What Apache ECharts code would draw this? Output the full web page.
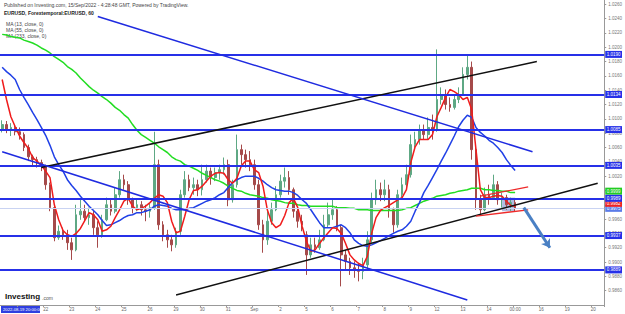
<!DOCTYPE html>
<html><head><meta charset="utf-8">
<script src="https://cdn.jsdelivr.net/npm/echarts@6/dist/echarts.min.js"></script>
<style>html,body{margin:0;padding:0;background:#fff}#c{width:625px;height:314px}</style>
</head><body><div id="c"></div>
<script>
// ---- time axis (4-hour bars, trading days only) ----
const tradingDays = ['08-18','08-19','08-22','08-23','08-24','08-25','08-26','08-29','08-30','08-31','09-01','09-02','09-05','09-06','09-07','09-08','09-09','09-12','09-13','09-14','09-15','09-16','09-19','09-20'];
const dayTickLabels = ['','','22','23','24','25','26','29','30','31','Sep','2','5','6','7','8','9','12','13','14','00:00','16','19','20'];
const barHours = ['00:00','04:00','08:00','12:00','16:00','20:00'];

// ---- EURUSD 4h candles ----
const opens = [1.0085,1.0092,1.0085,1.0088,1.0082,1.0078,1.0060,1.0047,1.0043,1.0039,
1.0034,1.0008,0.9976,0.9934,0.9943,0.9938,0.9927,0.9917,0.9966,0.9971,
0.9962,0.9966,0.9948,0.9938,0.9959,0.9980,0.9971,0.9994,1.0015,1.0008,
0.9987,0.9976,0.9980,0.9973,0.9971,0.9976,1.0036,0.9952,0.9938,0.9931,
0.9924,0.9943,0.9994,1.0015,1.0004,1.0008,1.0001,1.0015,1.0027,1.0018,
1.0025,1.0029,1.0036,0.9987,1.0008,1.0057,1.0050,1.0043,1.0036,1.0008,
0.9952,0.9931,0.9957,0.9973,0.9994,1.0013,1.0018,1.0001,0.9971,0.9957,
0.9938,0.9910,0.9924,0.9920,0.9931,0.9952,0.9966,0.9973,0.9948,0.9910,
0.9901,0.9892,0.9889,0.9887,0.9896,0.9931,0.9987,1.0001,0.9994,1.0001,
0.9973,0.9952,0.9994,1.0008,1.0022,1.0064,1.0071,1.0085,1.0078,1.0088,
1.0085,1.0127,1.0134,1.0120,1.0116,1.0127,1.0134,1.0162,1.0172,1.0057,
0.9987,0.9973,0.9994,0.9990,1.0008,0.9987,0.9990,0.9980,0.9983];
const closes = [1.0092,1.0085,1.0088,1.0082,1.0078,1.0060,1.0047,1.0043,1.0039,1.0034,
1.0008,0.9976,0.9934,0.9943,0.9938,0.9927,0.9917,0.9966,0.9971,0.9962,
0.9966,0.9948,0.9938,0.9959,0.9980,0.9971,0.9994,1.0015,1.0008,0.9987,
0.9976,0.9980,0.9973,0.9971,0.9976,1.0036,0.9952,0.9938,0.9931,0.9924,
0.9943,0.9994,1.0015,1.0004,1.0008,1.0001,1.0015,1.0027,1.0018,1.0025,
1.0029,1.0036,0.9987,1.0008,1.0057,1.0050,1.0043,1.0036,1.0008,0.9952,
0.9931,0.9957,0.9973,0.9994,1.0013,1.0018,1.0001,0.9971,0.9957,0.9952,
0.9910,0.9924,0.9920,0.9931,0.9952,0.9966,0.9973,0.9948,0.9910,0.9901,
0.9892,0.9889,0.9887,0.9896,0.9931,0.9987,1.0001,0.9994,1.0001,0.9973,
0.9952,0.9994,1.0008,1.0022,1.0064,1.0071,1.0085,1.0078,1.0088,1.0085,
1.0127,1.0134,1.0120,1.0116,1.0127,1.0134,1.0162,1.0172,1.0057,0.9987,
0.9973,0.9994,0.9990,1.0008,0.9987,0.9990,0.9980,0.9983,0.9975];
const lows = [1.0081,1.0080,1.0076,1.0077,1.0071,1.0055,1.0041,1.0035,1.0032,1.0027,
1.0001,0.9971,0.9929,0.9931,0.9931,0.9917,0.9903,0.9915,0.9959,0.9957,
0.9952,0.9938,0.9920,0.9934,0.9957,0.9965,0.9968,0.9990,1.0001,0.9980,
0.9968,0.9971,0.9965,0.9957,0.9962,0.9973,0.9945,0.9929,0.9920,0.9915,
0.9920,0.9938,0.9990,0.9999,0.9994,0.9992,0.9993,1.0011,1.0008,1.0013,
1.0015,1.0022,0.9978,0.9983,1.0004,1.0036,1.0032,1.0027,1.0001,0.9945,
0.9913,0.9924,0.9952,0.9971,0.9990,1.0004,0.9994,0.9962,0.9948,0.9943,
0.9882,0.9906,0.9913,0.9917,0.9929,0.9948,0.9959,0.9943,0.9866,0.9889,
0.9882,0.9878,0.9873,0.9876,0.9889,0.9927,0.9980,0.9985,0.9985,0.9962,
0.9941,0.9948,0.9990,1.0001,1.0018,1.0057,1.0064,1.0071,1.0071,1.0071,
1.0082,1.0120,1.0113,1.0110,1.0113,1.0122,1.0133,1.0155,1.0043,0.9973,
0.9965,0.9971,0.9980,0.9987,0.9980,0.9976,0.9973,0.9971,0.9971];
const highs = [1.0098,1.0097,1.0094,1.0092,1.0088,1.0081,1.0064,1.0050,1.0047,1.0043,
1.0036,1.0011,0.9980,0.9951,0.9948,0.9945,0.9934,0.9980,0.9987,0.9980,
0.9976,0.9973,0.9957,0.9966,0.9990,0.9987,1.0004,1.0027,1.0022,1.0013,
0.9990,0.9987,0.9985,0.9980,0.9982,1.0082,1.0043,0.9957,0.9945,0.9938,
0.9948,1.0001,1.0027,1.0022,1.0018,1.0015,1.0036,1.0036,1.0032,1.0032,
1.0036,1.0046,1.0043,1.0015,1.0078,1.0064,1.0057,1.0055,1.0043,1.0015,
0.9959,0.9971,0.9983,1.0006,1.0022,1.0032,1.0027,1.0004,0.9976,0.9966,
0.9943,0.9934,0.9934,0.9945,0.9966,0.9983,0.9987,0.9978,0.9952,0.9917,
0.9906,0.9901,0.9899,0.9906,0.9943,0.9997,1.0015,1.0011,1.0015,1.0008,
0.9976,1.0001,1.0018,1.0036,1.0078,1.0082,1.0092,1.0092,1.0102,1.0106,
1.0197,1.0144,1.0141,1.0130,1.0134,1.0144,1.0172,1.0190,1.0180,1.0060,
0.9994,1.0004,1.0008,1.0022,1.0013,0.9997,0.9994,0.9990,0.9987];

// ---- moving averages ----
const ma13 = [1.0155,1.0127,1.0103,1.0089,1.0076,1.0067,1.0059,1.0046,1.0041,1.0035,
1.0027,1.0018,0.9980,0.9959,0.9944,0.9938,0.9936,0.9940,0.9947,0.9958,
0.9969,0.9966,0.9959,0.9943,0.9945,0.9950,0.9962,0.9973,0.9985,0.9989,
0.9978,0.9973,0.9975,0.9978,0.9983,0.9989,0.9994,0.9992,0.9983,0.9957,
0.9941,0.9943,0.9964,0.9987,1.0000,1.0001,1.0006,1.0013,1.0020,1.0024,
1.0025,1.0024,1.0015,1.0010,1.0017,1.0034,1.0041,1.0041,1.0029,1.0025,
1.0006,0.9973,0.9955,0.9948,0.9952,0.9965,0.9983,0.9989,0.9976,0.9950,
0.9929,0.9915,0.9917,0.9926,0.9934,0.9941,0.9948,0.9947,0.9940,0.9926,
0.9910,0.9903,0.9898,0.9895,0.9908,0.9940,0.9962,0.9972,0.9976,0.9979,
0.9983,0.9987,0.9990,1.0001,1.0039,1.0061,1.0071,1.0071,1.0071,1.0078,
1.0103,1.0116,1.0130,1.0141,1.0138,1.0134,1.0127,1.0130,1.0113,1.0057,
1.0001,0.9990,0.9990,0.9992,0.9993,0.9992,0.9985,0.9979,0.9978];
const ma55 = [1.0172,1.0166,1.0161,1.0155,1.0141,1.0130,1.0120,1.0109,1.0099,1.0088,
1.0077,1.0063,1.0047,1.0036,1.0027,1.0015,1.0007,1.0000,0.9992,0.9985,
0.9978,0.9972,0.9966,0.9958,0.9951,0.9952,0.9955,0.9958,0.9962,0.9965,
0.9966,0.9969,0.9969,0.9971,0.9973,0.9978,0.9980,0.9979,0.9978,0.9975,
0.9973,0.9973,0.9973,0.9975,0.9976,0.9979,0.9982,0.9985,0.9987,0.9990,
0.9994,0.9997,1.0004,1.0011,1.0015,1.0018,1.0020,1.0020,1.0020,1.0017,
1.0013,1.0008,1.0004,1.0001,1.0000,0.9999,0.9999,0.9997,0.9993,0.9987,
0.9982,0.9973,0.9964,0.9955,0.9948,0.9948,0.9948,0.9950,0.9952,0.9948,
0.9941,0.9931,0.9926,0.9923,0.9922,0.9924,0.9927,0.9930,0.9933,0.9937,
0.9940,0.9943,0.9945,0.9950,0.9957,0.9971,0.9983,0.9997,1.0007,1.0018,
1.0029,1.0041,1.0052,1.0064,1.0076,1.0089,1.0098,1.0105,1.0102,1.0088,
1.0081,1.0076,1.0070,1.0066,1.0060,1.0053,1.0043,1.0035,1.0028];
const ma233 = [1.0218,1.0217,1.0215,1.0214,1.0213,1.0210,1.0208,1.0206,1.0203,1.0199,
1.0196,1.0192,1.0187,1.0183,1.0179,1.0173,1.0169,1.0164,1.0157,1.0151,
1.0145,1.0140,1.0136,1.0131,1.0127,1.0122,1.0116,1.0112,1.0106,1.0101,
1.0092,1.0084,1.0078,1.0074,1.0070,1.0066,1.0061,1.0057,1.0053,1.0047,
1.0043,1.0041,1.0036,1.0034,1.0031,1.0028,1.0024,1.0021,1.0018,1.0015,
1.0013,1.0010,1.0006,1.0003,1.0000,0.9999,0.9996,0.9994,0.9993,0.9992,
0.9990,0.9989,0.9987,0.9986,0.9985,0.9983,0.9982,0.9982,0.9980,0.9979,
0.9979,0.9978,0.9978,0.9978,0.9978,0.9978,0.9978,0.9976,0.9976,0.9976,
0.9975,0.9975,0.9973,0.9973,0.9973,0.9972,0.9972,0.9972,0.9972,0.9972,
0.9972,0.9972,0.9973,0.9975,0.9976,0.9979,0.9982,0.9985,0.9987,0.9989,
0.9992,0.9993,0.9994,0.9996,0.9997,0.9999,1.0000,1.0001,1.0003,1.0003,
1.0003,1.0001,1.0001,1.0000,1.0000,0.9999,0.9999,0.9997,0.9997];

// ---- horizontal levels and price tags ----
const levels = [1.0190, 1.0134, 1.0085, 1.0035, 0.9989, 0.9937, 0.9889];
const lastPrice = 0.9975;
const ma13Tag = 0.9982;
const ma233Tag = 0.9999;

// ---- drawn trend lines: [barIndex, price] ----
const blackLines = [[[9, 1.0032], [123, 1.0180]], [[40, 0.9854], [137, 1.0010]]];
const blueLines = [[[22, 1.0243], [122, 1.0054]], [[0, 1.0054], [107, 0.9847]]];
const redLines = [[[110, 0.9992], [121, 1.0005]], [[109, 0.9964], [121, 0.9973]]];
const arrowLine = [[120, 0.9976], [126, 0.9920]];
const boxArea = [[115, 0.9990], [118, 0.9971]];

// ---- build ----
const categories = [];
tradingDays.forEach((d, k) => {
  barHours.forEach(h => {
    if (k === 0 && h < '08:00') return;
    if (k === tradingDays.length - 1 && h > '08:00') return;
    categories.push(d + ' ' + h);
  });
});
const dayLabel = {};
tradingDays.forEach((d, k) => { dayLabel[d] = dayTickLabels[k]; });
const isDayStart = (i, v) => v.endsWith('00:00');
const candles = opens.map((o, i) => [o, closes[i], lows[i], highs[i]]);
const FONT = '"Liberation Sans", Arial, sans-serif';
const pairs = arr => arr.map(p => [{coord: p[0]}, {coord: p[1]}]);
const tag = (bg) => ({show: true, position: 'end', distance: 1, fontSize: 4.5, color: '#fff',
  backgroundColor: bg, padding: [1, 1.5], fontFamily: FONT, formatter: p => Number(p.value).toFixed(4)});

const chart = echarts.init(document.getElementById('c'), null, {renderer: 'svg'});
chart.setOption({
  animation: false,
  backgroundColor: '#fff',
  grid: {left: 0, right: 17, top: 0, bottom: 9},
  xAxis: {
    type: 'category', data: categories, boundaryGap: true,
    axisLine: {lineStyle: {color: '#999', width: 1}},
    axisTick: {show: true, interval: isDayStart, length: 2, lineStyle: {color: '#999'}},
    axisLabel: {interval: isDayStart, formatter: v => dayLabel[v.split(' ')[0]] || '',
      fontSize: 4.5, color: '#666', margin: 2, fontFamily: FONT},
    splitLine: {show: false}
  },
  yAxis: {
    type: 'value', position: 'right', min: 0.984, max: 1.0266, interval: 0.002,
    axisLine: {show: true, lineStyle: {color: '#999'}},
    axisTick: {show: true, length: 2, lineStyle: {color: '#999'}},
    axisLabel: {fontSize: 4.5, color: '#777', margin: 4, fontFamily: FONT, showMinLabel: false,
      formatter: v => v.toFixed(4)},
    splitLine: {show: false}
  },
  series: [
    {
      name: 'EURUSD', type: 'candlestick', data: candles, barMaxWidth: 3,
      itemStyle: {color: '#5ea884', color0: '#a54a4a', borderColor: '#5ea884', borderColor0: '#a54a4a', borderWidth: 1},
      markLine: {
        silent: true, symbol: 'none', animation: false, precision: 4,
        lineStyle: {color: '#2630e8', width: 2, type: 'solid'},
        label: tag('#2630e8'),
        data: [
          {yAxis: lastPrice, lineStyle: {color: '#c9d3f2', width: 1, type: 'solid'}, label: tag('#5b7be8')},
          {yAxis: ma13Tag, lineStyle: {color: 'rgba(0,0,0,0)', width: 0}, label: tag('#ee2222')},
          {yAxis: ma233Tag, lineStyle: {color: 'rgba(0,0,0,0)', width: 0}, label: tag('#22cc22')}
        ].concat(levels.map(v => ({yAxis: v})))
      },
      markArea: {silent: true, itemStyle: {color: 'rgba(80,110,190,0.45)'},
        data: [[{coord: boxArea[0]}, {coord: boxArea[1]}]]}
    },
    {name: 'MA 233', type: 'line', data: ma233, showSymbol: false, smooth: false,
      lineStyle: {color: '#22dd22', width: 1.5}, z: 3},
    {name: 'MA 55', type: 'line', data: ma55, showSymbol: false, smooth: false,
      lineStyle: {color: '#2040e6', width: 1.5}, z: 3},
    {name: 'MA 13', type: 'line', data: ma13, showSymbol: false, smooth: false,
      lineStyle: {color: '#f01c1c', width: 1.5}, z: 4},
    {name: 'black trend', type: 'line', data: [], markLine: {silent: true, symbol: 'none', animation: false, precision: 4,
      label: {show: false}, lineStyle: {color: '#111', width: 1.5, type: 'solid'}, data: pairs(blackLines)}},
    {name: 'blue trend', type: 'line', data: [], markLine: {silent: true, symbol: 'none', animation: false, precision: 4,
      label: {show: false}, lineStyle: {color: '#1f2be0', width: 1.5, type: 'solid'}, data: pairs(blueLines)}},
    {name: 'red channel', type: 'line', data: [], markLine: {silent: true, symbol: 'none', animation: false, precision: 4,
      label: {show: false}, lineStyle: {color: '#ee2a2a', width: 1.3, type: 'solid'}, data: pairs(redLines)}},
    {name: 'arrow', type: 'line', data: [], markLine: {silent: true, symbol: ['none', 'arrow'], symbolSize: 8, animation: false, precision: 4,
      label: {show: false}, lineStyle: {color: '#4a80c4', width: 3, type: 'solid'}, data: pairs([arrowLine])}}
  ],
  graphic: [
    {type: 'text', left: 4, top: 2, style: {text: 'Published on Investing.com, 15/Sep/2022 - 4:28:48 GMT, Powered by TradingView.', font: '5px ' + FONT, fill: '#444'}},
    {type: 'text', left: 4, top: 10, style: {text: 'EURUSD, Forextemporal:EURUSD, 60', font: 'bold 5px ' + FONT, fill: '#222'}},
    {type: 'text', left: 6, top: 21, style: {text: 'MA (13, close, 0)', font: '5px ' + FONT, fill: '#444'}},
    {type: 'text', left: 6, top: 27, style: {text: 'MA (55, close, 0)', font: '5px ' + FONT, fill: '#444'}},
    {type: 'text', left: 6, top: 33, style: {text: 'MA (233, close, 0)', font: '5px ' + FONT, fill: '#444'}},
    {type: 'text', left: 5, top: 292, style: {text: 'Investing', font: 'bold 8px ' + FONT, fill: '#111'}},
    {type: 'text', left: 42, top: 295, style: {text: '.com', font: '5px ' + FONT, fill: '#555'}},
    {type: 'rect', left: 1, top: 306, shape: {width: 39, height: 7}, style: {fill: '#2f3fe0'}},
    {type: 'text', left: 3, top: 307, style: {text: '2022-08-19 20:00:00', font: '4.2px ' + FONT, fill: '#fff'}}
  ]
});
</script></body></html>
